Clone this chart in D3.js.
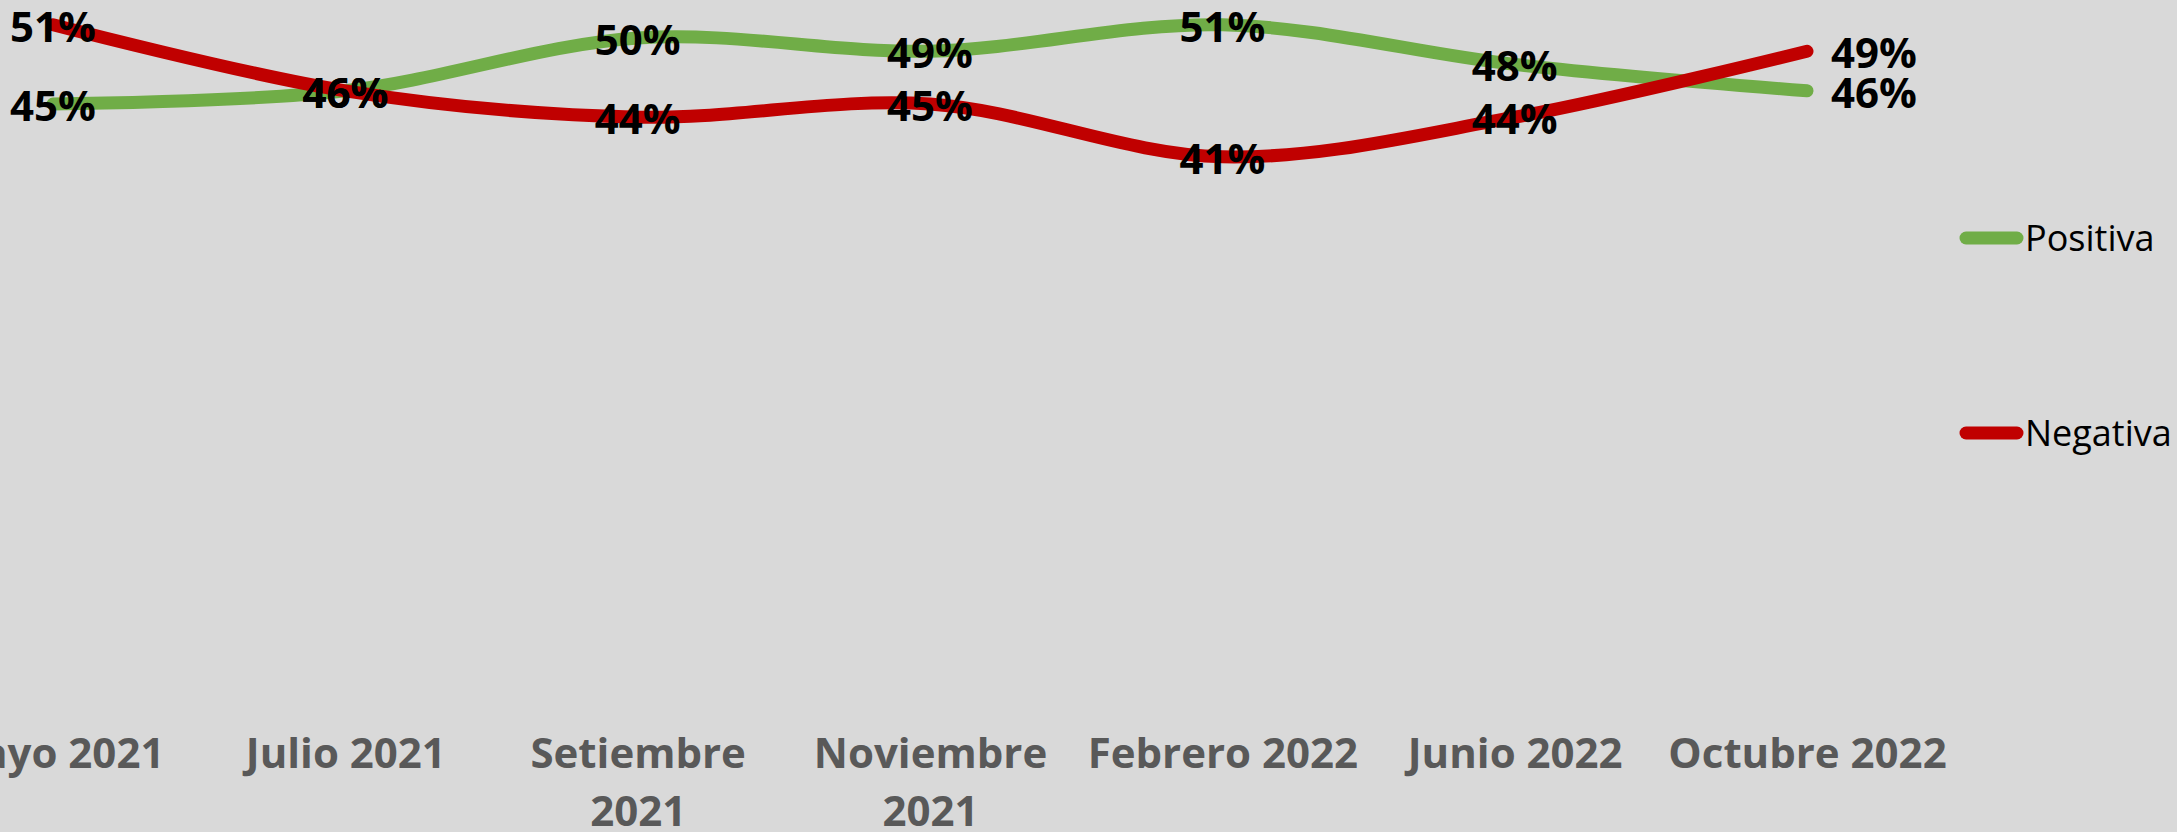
<!DOCTYPE html>
<html>
<head>
<meta charset="utf-8">
<script src="https://cdn.jsdelivr.net/npm/d3@7"></script>
<style>
  html, body { margin: 0; padding: 0; background: #d9d9d9; }
  svg { display: block; }
  .tick text { font-family: 'Open Sans', sans-serif; font-weight: 700; font-size: 42px; fill: #595959; }
  .data-label { font-family: 'Open Sans', sans-serif; font-weight: 700; font-size: 42px; fill: #000; }
  .legend-label { font-family: 'Open Sans', sans-serif; font-size: 36px; fill: #000; }
</style>
</head>
<body>
<div id="chart"></div>
<script>
// values
const categories = ['Mayo 2021', 'Julio 2021', 'Setiembre 2021', 'Noviembre 2021', 'Febrero 2022', 'Junio 2022', 'Octubre 2022'];
const positiva = [0.45, 0.46, 0.50, 0.49, 0.51, 0.48, 0.46];
const negativa = [0.51, 0.46, 0.44, 0.45, 0.41, 0.44, 0.49];
const seriesNames = ['Positiva', 'Negativa'];

const colors = {Positiva: '#70ad47', Negativa: '#c00000'};

class LineChart {
  constructor(_config) {
    this.config = {
      parentElement: _config.parentElement,
      containerWidth: _config.containerWidth || 2177,
      containerHeight: _config.containerHeight || 832,
      lineWidth: 13,
      labelWrap: 290
    };
    this.InitVis();
  }

  InitVis() {
    let vis = this;

    vis.svg = d3.select(vis.config.parentElement).append('svg')
        .attr('width', vis.config.containerWidth)
        .attr('height', vis.config.containerHeight);

    vis.svg.append('rect')
        .attr('width', vis.config.containerWidth)
        .attr('height', vis.config.containerHeight)
        .attr('fill', '#d9d9d9');

    // plot area is cropped on the left/top in the original
    vis.x = d3.scalePoint()
        .domain(categories)
        .range([53, 1807]);

    vis.y = d3.scaleLinear()
        .domain([0, 0.6])
        .range([698, 698 - 792]);

    vis.line = d3.line()
        .x((d, i) => vis.x(categories[i]))
        .y(d => vis.y(d))
        .curve(d3.curveCardinal.tension(0));

    vis.series = [
      {name: seriesNames[0], values: positiva},
      {name: seriesNames[1], values: negativa}
    ];

    vis.RenderVis();
  }

  RenderVis() {
    let vis = this;

    // x axis, no line, no ticks
    const xAxis = d3.axisBottom(vis.x).tickSize(0).tickPadding(3);
    const axisG = vis.svg.append('g')
        .attr('class', 'x-axis')
        .attr('transform', 'translate(0,735)')
        .call(xAxis);
    axisG.select('.domain').remove();
    axisG.selectAll('.tick text').call(wrap, vis.config.labelWrap);

    vis.svg.selectAll('.series-line')
        .data(vis.series)
      .join('path')
        .attr('class', 'series-line')
        .attr('fill', 'none')
        .attr('stroke', d => colors[d.name])
        .attr('stroke-width', vis.config.lineWidth)
        .attr('stroke-linecap', 'round')
        .attr('stroke-linejoin', 'round')
        .attr('d', d => vis.line(d.values));

    // data labels: centered on the point, last one to the right
    const last = categories.length - 1;
    vis.series.forEach(s => {
      vis.svg.append('g')
          .selectAll('text')
          .data(s.values)
        .join('text')
          .attr('class', 'data-label')
          .attr('x', (d, i) => i === last ? vis.x(categories[i]) + 24 : vis.x(categories[i]))
          .attr('y', d => vis.y(d) + 17)
          .attr('text-anchor', (d, i) => i === last ? 'start' : 'middle')
          .text(d => d3.format('.0%')(d));
    });

    // legend
    const legend = vis.svg.append('g')
        .attr('class', 'legend')
        .attr('transform', 'translate(1960,238)');

    const item = legend.selectAll('.legend-item')
        .data(seriesNames)
      .join('g')
        .attr('class', 'legend-item')
        .attr('transform', (d, i) => `translate(0,${i * 195})`);

    item.append('line')
        .attr('x1', 6).attr('x2', 57)
        .attr('stroke', d => colors[d])
        .attr('stroke-width', vis.config.lineWidth)
        .attr('stroke-linecap', 'round');

    item.append('text')
        .attr('class', 'legend-label')
        .attr('x', 65)
        .attr('dy', '0.35em')
        .text(d => d);
  }
}

function wrap(text, width) {
  text.each(function() {
    const t = d3.select(this);
    const words = t.text().split(/\s+/);
    const y = t.attr('y');
    const dy = parseFloat(t.attr('dy'));
    let line = [];
    let lineNumber = 0;
    let tspan = t.text(null).append('tspan').attr('x', 0).attr('y', y).attr('dy', dy + 'em');
    words.forEach(w => {
      line.push(w);
      tspan.text(line.join(' '));
      if (tspan.node().getComputedTextLength() > width && line.length > 1) {
        line.pop();
        tspan.text(line.join(' '));
        line = [w];
        tspan = t.append('tspan').attr('x', 0).attr('y', y)
            .attr('dy', (++lineNumber * 1.38 + dy) + 'em')
            .text(w);
      }
    });
  });
}

new LineChart({parentElement: '#chart'});
</script>
</body>
</html>
